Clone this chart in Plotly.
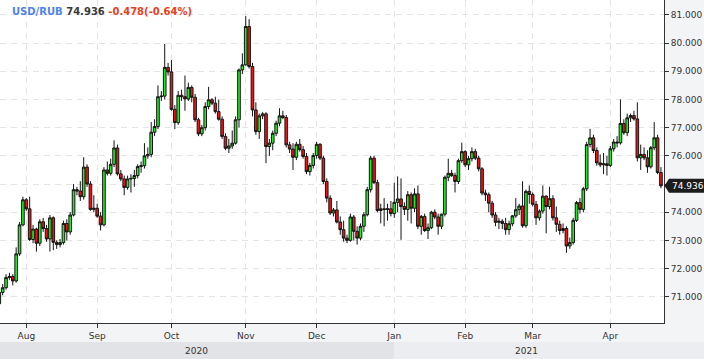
import plotly.graph_objects as go
import pandas as pd

# ---------------- data ----------------
dates = pd.bdate_range("2020-07-22", "2021-04-22")

opens = [
    70.75, 71.15, 71.32, 71.68, 71.72, 71.56, 72.52, 73.55, 74.44, 74.12,
    73.03, 73.40, 72.90, 73.66, 73.42, 73.05, 73.80, 72.93, 72.85, 72.92,
    73.60, 73.30, 73.90, 74.80, 74.75, 74.55, 75.60, 75.00, 74.10, 74.14,
    73.86, 73.55, 75.50, 75.38, 75.70, 76.28, 75.36, 75.18, 74.88, 75.18,
    75.20, 75.30, 75.62, 75.65, 76.00, 76.05, 76.84, 77.04, 78.10, 78.12,
    79.14, 78.98, 77.65, 77.18, 78.15, 78.10, 78.02, 78.43, 78.08, 77.28,
    76.78, 77.00, 77.75, 77.99, 77.87, 77.57, 77.30, 76.69, 76.27, 76.35,
    76.45, 77.28, 79.05, 79.23, 80.59, 79.17, 77.63, 76.86, 77.42, 77.49,
    76.33, 76.45, 76.80, 77.16, 77.42, 77.36, 76.39, 76.24, 75.95, 76.41,
    76.22, 75.98, 75.44, 75.66, 76.01, 76.41, 75.92, 75.09, 74.50, 73.97,
    74.08, 73.65, 73.38, 73.08, 73.00, 73.83, 73.32, 73.08, 73.50, 73.91,
    74.80, 75.92, 75.05, 74.06, 74.12, 74.10, 74.12, 73.95, 74.35, 74.47,
    74.20, 74.10, 74.62, 74.14, 74.65, 73.50, 73.85, 73.35, 73.45, 74.00,
    73.83, 73.50, 73.93, 75.24, 75.38, 75.30, 75.09, 75.83, 76.15, 75.68,
    75.90, 76.15, 75.92, 75.54, 74.68, 74.62, 74.32, 73.90, 73.64, 73.68,
    73.60, 73.38, 73.59, 73.87, 74.09, 74.22, 73.52, 74.74, 74.63, 74.28,
    73.80, 74.04, 74.57, 74.20, 74.48, 73.80, 73.57, 73.35, 73.42, 72.80,
    72.92, 73.71, 74.34, 74.10, 74.83, 76.40, 76.64, 76.19, 75.75, 75.68,
    75.72, 75.66, 76.25, 76.49, 76.46, 77.15, 76.82, 77.35, 77.43, 77.31,
    75.93, 76.05, 75.93, 75.61, 76.29, 76.64, 75.41,
]
highs = [
    71.25, 71.45, 71.80, 71.85, 71.80, 72.75, 73.65, 74.55, 74.50, 74.55,
    73.55, 73.45, 73.75, 73.80, 73.55, 73.90, 73.85, 73.00, 73.05, 73.70,
    73.75, 74.00, 75.00, 74.90, 75.10, 75.95, 75.70, 75.10, 74.60, 74.30,
    74.00, 75.60, 75.80, 75.90, 76.55, 76.40, 75.50, 75.30, 75.30, 75.35,
    75.50, 75.70, 75.80, 76.45, 76.30, 77.20, 77.30, 78.50, 78.30, 79.97,
    79.30, 79.40, 77.80, 78.30, 78.35, 78.85, 78.60, 78.50, 78.20, 77.35,
    77.10, 77.90, 78.45, 78.05, 78.10, 78.00, 77.40, 76.80, 76.60, 76.90,
    77.40, 79.10, 79.64, 80.96, 80.85, 79.30, 77.90, 77.50, 77.55, 77.55,
    76.60, 76.90, 77.25, 77.69, 77.60, 77.45, 76.50, 76.45, 76.50, 76.60,
    76.35, 76.10, 75.75, 76.10, 76.50, 76.45, 76.00, 75.20, 74.60, 74.15,
    74.40, 73.85, 73.70, 73.20, 73.95, 73.90, 73.50, 73.60, 74.00, 74.90,
    76.00, 76.00, 75.15, 74.30, 74.50, 74.30, 74.40, 75.05, 75.27, 75.20,
    74.35, 74.75, 74.70, 74.85, 74.95, 73.90, 73.95, 73.60, 74.05, 74.10,
    73.95, 73.95, 75.30, 75.90, 75.50, 75.40, 75.90, 76.47, 76.20, 76.00,
    76.30, 76.25, 76.00, 75.60, 74.80, 74.70, 74.40, 74.00, 73.80, 73.75,
    73.80, 73.70, 73.90, 74.50, 74.30, 75.10, 74.80, 74.95, 74.70, 74.40,
    74.10, 74.95, 74.60, 74.90, 74.60, 74.20, 73.70, 73.60, 73.50, 73.10,
    73.80, 74.40, 74.50, 74.90, 76.50, 76.96, 76.75, 76.30, 76.05, 76.10,
    76.00, 76.35, 76.60, 76.70, 78.00, 77.30, 77.50, 77.50, 77.60, 77.90,
    76.40, 76.30, 76.20, 76.35, 77.20, 76.75, 75.60,
]
lows = [
    70.64, 71.05, 71.25, 71.60, 71.40, 71.50, 72.45, 73.50, 74.05, 72.98,
    72.90, 72.60, 72.80, 73.30, 72.95, 72.60, 72.65, 72.70, 72.75, 72.85,
    73.00, 73.20, 73.85, 74.60, 74.40, 74.45, 74.90, 74.05, 74.00, 73.80,
    73.35, 73.50, 75.30, 75.30, 75.60, 75.30, 75.10, 74.60, 74.80, 74.70,
    74.90, 75.20, 75.40, 75.55, 75.90, 75.95, 76.70, 76.95, 77.95, 78.00,
    78.85, 77.60, 76.95, 77.10, 77.95, 77.60, 77.95, 77.90, 77.20, 76.70,
    76.70, 76.90, 77.65, 77.80, 77.50, 77.25, 76.60, 76.20, 76.10, 76.25,
    76.40, 77.00, 78.90, 79.20, 79.10, 77.40, 76.75, 76.60, 77.30, 75.74,
    76.00, 76.20, 76.70, 77.05, 77.30, 76.30, 76.10, 75.50, 75.85, 76.15,
    75.90, 75.35, 75.30, 75.55, 75.90, 75.85, 75.00, 74.35, 73.90, 73.85,
    73.60, 73.20, 72.95, 72.90, 72.95, 73.00, 72.85, 73.00, 73.30, 73.85,
    74.70, 75.00, 74.00, 73.60, 73.50, 73.70, 73.85, 73.80, 74.00, 73.02,
    73.90, 73.70, 73.60, 74.00, 73.40, 73.20, 73.30, 73.05, 73.40, 73.75,
    73.20, 73.40, 73.85, 75.10, 75.25, 74.70, 75.00, 75.75, 75.60, 75.50,
    75.80, 75.85, 75.45, 74.60, 74.40, 74.00, 73.80, 73.50, 73.40, 73.40,
    73.20, 73.20, 73.50, 73.80, 73.90, 73.45, 73.45, 74.30, 74.20, 73.55,
    73.70, 73.95, 73.25, 74.10, 73.70, 73.30, 73.20, 73.25, 72.56, 72.70,
    72.85, 73.65, 73.95, 74.00, 74.75, 76.30, 76.10, 75.65, 75.60, 75.35,
    75.30, 75.60, 76.15, 76.30, 76.40, 76.75, 76.70, 77.20, 77.25, 75.80,
    75.50, 75.85, 75.40, 75.55, 76.20, 75.35, 74.85,
]
closes = [
    71.15, 71.32, 71.68, 71.72, 71.56, 72.52, 73.55, 74.44, 74.12, 73.03,
    73.40, 72.90, 73.66, 73.42, 73.05, 73.80, 72.93, 72.85, 72.92, 73.60,
    73.30, 73.90, 74.80, 74.75, 74.55, 75.60, 75.00, 74.10, 74.14, 73.86,
    73.55, 75.50, 75.38, 75.70, 76.28, 75.36, 75.18, 74.88, 75.18, 75.20,
    75.30, 75.62, 75.65, 76.00, 76.05, 76.84, 77.04, 78.10, 78.12, 79.14,
    78.98, 77.65, 77.18, 78.15, 78.10, 78.02, 78.43, 78.08, 77.28, 76.78,
    77.00, 77.75, 77.99, 77.87, 77.57, 77.30, 76.69, 76.27, 76.35, 76.45,
    77.28, 79.05, 79.23, 80.59, 79.17, 77.63, 76.86, 77.42, 77.49, 76.33,
    76.45, 76.80, 77.16, 77.42, 77.36, 76.39, 76.24, 75.95, 76.41, 76.22,
    75.98, 75.44, 75.66, 76.01, 76.41, 75.92, 75.09, 74.50, 73.97, 74.08,
    73.65, 73.38, 73.08, 73.00, 73.83, 73.32, 73.08, 73.50, 73.91, 74.80,
    75.92, 75.05, 74.06, 74.12, 74.10, 74.12, 73.95, 74.35, 74.47, 74.20,
    74.10, 74.62, 74.14, 74.65, 73.50, 73.85, 73.35, 73.45, 74.00, 73.83,
    73.50, 73.93, 75.24, 75.38, 75.30, 75.09, 75.83, 76.15, 75.68, 75.90,
    76.15, 75.92, 75.54, 74.68, 74.62, 74.32, 73.90, 73.64, 73.68, 73.60,
    73.38, 73.59, 73.87, 74.09, 74.22, 73.52, 74.74, 74.63, 74.28, 73.80,
    74.04, 74.57, 74.20, 74.48, 73.80, 73.57, 73.35, 73.42, 72.80, 72.92,
    73.71, 74.34, 74.10, 74.83, 76.40, 76.64, 76.19, 75.75, 75.68, 75.72,
    75.66, 76.25, 76.49, 76.46, 77.15, 76.82, 77.35, 77.43, 77.31, 75.93,
    76.05, 75.93, 75.61, 76.29, 76.64, 75.41, 74.936,
]

symbol = "USD/RUB"
last_price = "74.936"
change_text = "-0.478(-0.64%)"
y_ticks = [71, 72, 73, 74, 75, 76, 77, 78, 79, 80, 81]
year_labels = ["2020", "2021"]

# ---------------- figure ----------------
n = len(closes)
xs = list(range(n))

month_pos, month_txt = [], []
for i in range(1, n):
    if dates[i].month != dates[i - 1].month:
        month_pos.append(i)
        month_txt.append(dates[i].strftime("%b"))

W, H = 704, 359
ML, MR, MT, MB = 0, 40, 0, 36
PW, PH = W - ML - MR, H - MT - MB

FONT = "DejaVu Sans"
AX = "#333333"
GRID = "#e4e4e4"

fig = go.Figure()
fig.add_trace(go.Candlestick(
    x=xs, open=opens, high=highs, low=lows, close=closes,
    increasing=dict(fillcolor="#1ef01e", line=dict(color="#141414", width=1)),
    decreasing=dict(fillcolor="#f21212", line=dict(color="#141414", width=1)),
    whiskerwidth=0,
    hoverinfo="skip",
))

ytxt = [("" if abs(v - closes[-1]) < 0.3 else f"{v:.3f}") for v in y_ticks]

fig.update_layout(
    width=W, height=H,
    margin=dict(l=ML, r=MR, t=MT, b=MB, pad=0),
    paper_bgcolor="#f3f4f6",
    plot_bgcolor="#ffffff",
    showlegend=False,
    boxgap=0.12, boxgroupgap=0.12,
    font=dict(family=FONT, size=9, color=AX),
    xaxis=dict(
        range=[0.21, 196.9],
        tickmode="array", tickvals=month_pos, ticktext=month_txt,
        ticks="outside", ticklen=4, tickcolor=AX, tickwidth=1,
        showline=True, linecolor=AX, linewidth=1,
        showgrid=True, gridcolor=GRID, griddash="6px,5px", gridwidth=1,
        zeroline=False, rangeslider=dict(visible=False),
        tickfont=dict(family=FONT, size=9, color=AX),
        fixedrange=True,
    ),
    yaxis=dict(
        side="right",
        range=[70.067, 81.532],
        tickmode="array", tickvals=y_ticks, ticktext=ytxt,
        ticks="outside", ticklen=4, tickcolor=AX, tickwidth=1,
        showline=True, linecolor=AX, linewidth=1,
        showgrid=True, gridcolor=GRID, griddash="6px,5px", gridwidth=1,
        zeroline=False,
        tickfont=dict(family=FONT, size=9, color=AX),
        fixedrange=True,
    ),
)

def px_x(p):
    return (p - ML) / PW

def px_y(p):
    return 1 - (p - MT) / PH

# year band
split = 394
fig.add_shape(type="rect", xref="paper", yref="paper",
              x0=px_x(0), x1=px_x(split), y0=px_y(342), y1=px_y(359),
              fillcolor="#e2e3e7", line=dict(width=0), layer="below")
fig.add_shape(type="rect", xref="paper", yref="paper",
              x0=px_x(split), x1=px_x(W), y0=px_y(342), y1=px_y(359),
              fillcolor="#ecedf0", line=dict(width=0), layer="below")
for lbl, cx in zip(year_labels, [196, 526]):
    fig.add_annotation(x=px_x(cx), y=px_y(350.5), xref="paper", yref="paper",
                       text=lbl, showarrow=False, xanchor="center", yanchor="middle",
                       font=dict(family=FONT, size=9, color=AX))

# header
fig.add_annotation(
    x=px_x(10), y=px_y(11.5), xref="paper", yref="paper",
    xanchor="left", yanchor="middle", showarrow=False,
    text=(f"<b><span style='color:#4f82ec'>{symbol}</span> "
          f"<span style='color:#3a3a3a'>{last_price}</span> "
          f"<span style='color:#e5421b'>{change_text}</span></b>"),
    font=dict(family=FONT, size=10),
)

# last price tag
last = closes[-1]
yspan = 81.532 - 70.067
dy = 7 * yspan / PH
fig.add_shape(type="path", xref="paper", yref="y",
              path=(f"M {px_x(664.5)} {last} L {px_x(669)} {last + dy} "
                    f"L {px_x(W)} {last + dy} L {px_x(W)} {last - dy} "
                    f"L {px_x(669)} {last - dy} Z"),
              fillcolor="#1c1c1c", line=dict(width=0), layer="above")
fig.add_annotation(x=px_x(669.5), y=last, xref="paper", yref="y",
                   xanchor="left", yanchor="middle", showarrow=False,
                   text=last_price, font=dict(family=FONT, size=9, color="#ffffff"))

fig.write_html("out.html")
